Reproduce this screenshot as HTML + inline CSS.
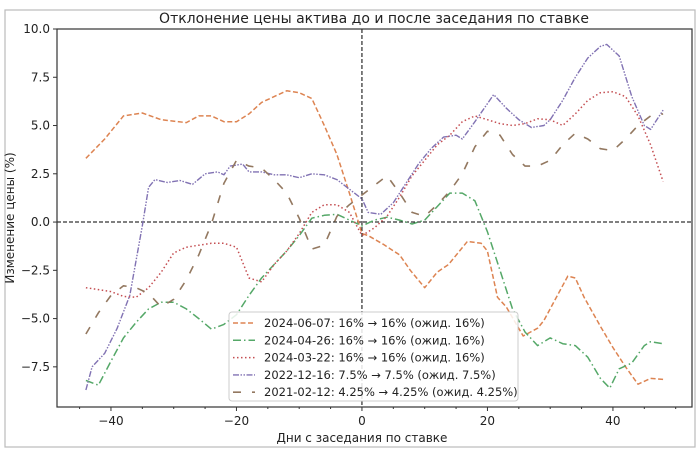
<!DOCTYPE html>
<html><head><meta charset="utf-8"><style>
body{margin:0;background:#fff;font-family:"Liberation Sans","DejaVu Sans",sans-serif}
svg text{font-family:"DejaVu Sans","Liberation Sans",sans-serif;fill:#222}
</style></head><body>
<svg id="chart" width="700" height="454" viewBox="0 0 700 454" xmlns="http://www.w3.org/2000/svg">
<rect x="5" y="10" width="690" height="437" fill="#fff" stroke="#bbb" stroke-width="1.2"/>
<g id="plot"></g>
</svg>
<script>
const xTicks=[-40,-20,0,20,40];
const yTicks=[-7.5,-5.0,-2.5,0.0,2.5,5.0,7.5,10.0];
const seriesNames=["2024-06-07: 16% \u2192 16% (ожид. 16%)","2024-04-26: 16% \u2192 16% (ожид. 16%)","2024-03-22: 16% \u2192 16% (ожид. 16%)","2022-12-16: 7.5% \u2192 7.5% (ожид. 7.5%)","2021-02-12: 4.25% \u2192 4.25% (ожид. 4.25%)"];
const daysOrange=[-44,-41,-38,-35,-32,-28,-26,-24,-22,-20,-18,-16,-12,-10,-8,-6,-4,-2,0,1,3.4,6,7.7,10,12,13.8,16.8,19,20,21.6,23,25.7,28,29,32.8,34,35.4,38,40,42,44,46,48];
const valsOrange=[3.3,4.3,5.5,5.65,5.3,5.15,5.5,5.5,5.2,5.2,5.6,6.2,6.8,6.7,6.4,5.0,3.5,1.5,-0.6,-0.7,-1.15,-1.7,-2.5,-3.4,-2.6,-2.2,-1.0,-1.1,-1.5,-3.9,-4.4,-5.9,-5.5,-5.1,-2.8,-2.9,-3.9,-5.4,-6.5,-7.5,-8.4,-8.1,-8.15];
const daysGreen=[-44,-42,-40,-38,-36,-34,-32,-30,-28,-26,-24,-22,-20,-18,-16,-14,-12,-10,-8,-6,-4,-2,0,2,4,6,8,10,12,14,16,18,20,22,24,26,28,30,32,34,36,38,39.5,41,43,45,46,48];
const valsGreen=[-8.2,-8.45,-7.2,-6.0,-5.2,-4.5,-4.15,-4.15,-4.5,-5.0,-5.55,-5.3,-4.8,-3.8,-2.9,-2.2,-1.5,-0.7,0.2,0.35,0.4,0.1,-0.2,0.1,0.25,0.1,-0.1,0.1,0.8,1.5,1.5,1.1,-0.5,-2.5,-4.5,-5.7,-6.4,-6.0,-6.3,-6.4,-7.0,-8.1,-8.6,-7.6,-7.3,-6.4,-6.2,-6.3];
const daysRed=[-44,-40,-38,-36,-34,-32,-30,-28,-26,-24,-22,-20,-18,-16,-14,-12,-10,-8,-6,-4,-2,0,2,4,6,8,10,12,14,16,18,20,22,24,26,28,30,32,34,36,38,40,42,44,46,48];
const valsRed=[-3.4,-3.6,-3.85,-3.9,-3.4,-2.6,-1.6,-1.3,-1.2,-1.1,-1.1,-1.3,-2.9,-3.1,-2.2,-1.5,-0.6,0.5,0.9,0.9,0.5,-0.7,-0.3,0.3,1.3,2.4,3.2,4.0,4.5,5.2,5.5,5.3,5.1,5.0,5.1,5.35,5.3,5.0,5.6,6.3,6.7,6.75,6.5,5.5,4.0,2.1];
const daysPurple=[-44,-43,-41,-39,-37,-35,-34,-33,-31,-29,-27,-25,-23,-22,-21,-19,-18,-16,-14,-12,-10,-8,-6,-4,-2,0,1,3,5,7,9,11,13,15,16,18,21,23,25,27,29,30,32,34,36,38,39,41,43,45,46,48];
const valsPurple=[-8.7,-7.5,-6.8,-5.5,-3.8,-0.2,1.8,2.2,2.05,2.15,1.95,2.5,2.6,2.45,2.9,3.0,2.6,2.6,2.45,2.45,2.3,2.5,2.45,2.2,1.7,1.2,0.5,0.4,1.0,2.0,3.0,3.8,4.4,4.5,4.3,5.2,6.6,5.9,5.3,4.9,5.0,5.3,6.3,7.5,8.5,9.1,9.2,8.6,6.5,5.0,4.8,5.8];
const daysBrown=[-44,-42,-40,-38,-36,-34,-32,-30,-28,-26,-24,-22,-20,-18,-16,-14,-12,-10,-8,-6,-4,-2,0,2,4,6,8,10,12,14,16,18,20,22,24,26,28,30,32,34,36,38,40,42,44,46,48];
const valsBrown=[-5.8,-4.7,-3.8,-3.3,-3.4,-3.7,-4.4,-4.0,-3.0,-1.7,-0.1,2.0,3.2,2.9,2.8,2.2,1.5,0.2,-1.4,-1.2,0.3,0.9,1.4,1.9,2.4,1.5,0.5,0.3,0.9,1.6,2.5,3.9,4.7,4.5,3.5,2.9,2.9,3.2,4.0,4.6,4.3,3.8,3.7,4.3,5.0,5.5,5.6];

const L=57,R=692,T=29,B=407;
const xMin=-48.6,xMax=52.6,yMin=-9.58,yMax=10;
const X=d=>L+(d-xMin)/(xMax-xMin)*(R-L);
const Y=v=>B-(v-yMin)/(yMax-yMin)*(B-T);
const NS="http://www.w3.org/2000/svg";
const g=document.getElementById('plot');
function mk(tag,attrs,parent){const e=document.createElementNS(NS,tag);for(const k in attrs)e.setAttribute(k,attrs[k]);(parent||g).appendChild(e);return e;}

let e=mk('line',{x1:L,x2:R,y1:Y(0),y2:Y(0),stroke:'#000','stroke-width':1,'stroke-dasharray':'4,2'});


e=mk('line',{x1:X(0),x2:X(0),y1:T,y2:B,stroke:'#000','stroke-width':1,'stroke-dasharray':'4,2'});



const styles=[
 {c:'#dd8452',d:'5,2.5',w:1.5},
 {c:'#55a868',d:'8,3,1.5,3',w:1.5},
 {c:'#c44e52',d:'1.5,2.5',w:1.5},
 {c:'#8172b3',d:'6,1.5,1.5,1.5,1.5,1.5',w:1.4},
 {c:'#937860',d:'8,11',w:1.6}];
const allDays=[daysOrange,daysGreen,daysRed,daysPurple,daysBrown];
const allVals=[valsOrange,valsGreen,valsRed,valsPurple,valsBrown];
const keys=['series-2024-06-07','series-2024-04-26','series-2024-03-22','series-2022-12-16','series-2021-02-12'];
for(let s=0;s<5;s++){
  const pts=allDays[s].map((d,i)=>X(d).toFixed(1)+','+Y(allVals[s][i]).toFixed(1)).join(' ');
  const p=mk('polyline',{points:pts,fill:'none',stroke:styles[s].c,'stroke-width':styles[s].w,'stroke-dasharray':styles[s].d,'stroke-linejoin':'round'});
  
  
}

e=mk('rect',{x:L,y:T,width:R-L,height:B-T,fill:'none',stroke:'#333','stroke-width':1.2});



for(const t of xTicks){
  mk('line',{x1:X(t),x2:X(t),y1:B,y2:B+4,stroke:'#333'});
  const tx=mk('text',{x:X(t),y:B+18,'text-anchor':'middle','font-size':12});
  tx.textContent=t<0?'\u2212'+Math.abs(t):String(t);
  
  
}
for(let t=-45;t<=50;t+=5){ if(t%20!==0) mk('line',{x1:X(t),x2:X(t),y1:B,y2:B+2,stroke:'#333'}); }
for(const t of yTicks){
  mk('line',{x1:L-4,x2:L,y1:Y(t),y2:Y(t),stroke:'#333'});
  const tx=mk('text',{x:L-7,y:Y(t)+4,'text-anchor':'end','font-size':12});
  tx.textContent=(t<0?'\u2212':'')+Math.abs(t).toFixed(1);
  
  
}
let t=mk('text',{x:374,y:23,'text-anchor':'middle','font-size':14});
t.textContent='Отклонение цены актива до и после заседания по ставке';


t=mk('text',{x:X(0),y:442,'text-anchor':'middle','font-size':12});
t.textContent='Дни с заседания по ставке';


t=mk('text',{x:14,y:218,'text-anchor':'middle','font-size':12,transform:'rotate(-90 14 218)'});
t.textContent='Изменение цены (%)';



const lg=mk('g',{});


mk('rect',{x:229,y:312,width:289,height:89,rx:3,fill:'#fff','fill-opacity':0.85,stroke:'#ccc'},lg);
for(let s=0;s<5;s++){
  const yy=323+s*17.3;
  const ent=mk('g',{},lg);
  
  
  mk('line',{x1:233,x2:255,y1:yy,y2:yy,stroke:styles[s].c,'stroke-width':styles[s].w,'stroke-dasharray':styles[s].d},ent);
  const tx=mk('text',{x:264,y:yy+4,'font-size':11.5},ent);
  tx.textContent=seriesNames[s];
}
</script>
</body></html>
